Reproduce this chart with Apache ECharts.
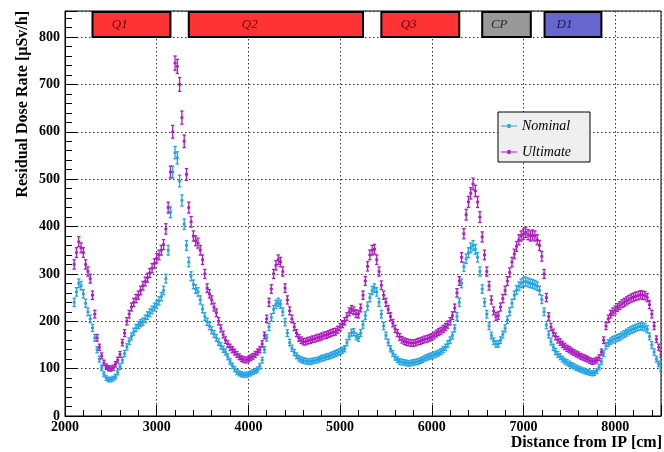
<!DOCTYPE html>
<html><head><meta charset="utf-8">
<script src="https://cdn.jsdelivr.net/npm/echarts@6/dist/echarts.min.js"></script>
<style>html,body{margin:0;padding:0;background:#fff}#c{width:664px;height:452px}</style>
</head><body><div id="c"></div>
<script>
const distance = [
2100,2125,2150,2175,2200,2225,2250,2275,2300,2325,2350,2375,2400,2425,2450,2475,2500,2525,2550,2575,
2600,2625,2650,2675,2700,2725,2750,2775,2800,2825,2850,2875,2900,2925,2950,2975,3000,3025,3050,3075,
3100,3125,3150,3175,3200,3225,3250,3275,3300,3325,3350,3375,3400,3425,3450,3475,3500,3525,3550,3575,
3600,3625,3650,3675,3700,3725,3750,3775,3800,3825,3850,3875,3900,3925,3950,3975,4000,4025,4050,4075,
4100,4125,4150,4175,4200,4225,4250,4275,4300,4325,4350,4375,4400,4425,4450,4475,4500,4525,4550,4575,
4600,4625,4650,4675,4700,4725,4750,4775,4800,4825,4850,4875,4900,4925,4950,4975,5000,5025,5050,5075,
5100,5125,5150,5175,5200,5225,5250,5275,5300,5325,5350,5375,5400,5425,5450,5475,5500,5525,5550,5575,
5600,5625,5650,5675,5700,5725,5750,5775,5800,5825,5850,5875,5900,5925,5950,5975,6000,6025,6050,6075,
6100,6125,6150,6175,6200,6225,6250,6275,6300,6325,6350,6375,6400,6425,6450,6475,6500,6525,6550,6575,
6600,6625,6650,6675,6700,6725,6750,6775,6800,6825,6850,6875,6900,6925,6950,6975,7000,7025,7050,7075,
7100,7125,7150,7175,7200,7225,7250,7275,7300,7325,7350,7375,7400,7425,7450,7475,7500,7525,7550,7575,
7600,7625,7650,7675,7700,7725,7750,7775,7800,7825,7850,7875,7900,7925,7950,7975,8000,8025,8050,8075,
8100,8125,8150,8175,8200,8225,8250,8275,8300,8325,8350,8375,8400,8425,8450,8475,8500];

const ultimate = [
320,345,368,355,345,320,305,290,255,215,165,145,127,112,104,101,100,102,109,118,
130,155,175,200,215,230,240,248,255,265,275,284,292,302,312,322,333,340,350,362,
395,440,515,600,745,738,700,630,580,510,440,410,380,370,365,350,330,300,270,258,
245,230,218,200,185,172,160,152,145,140,135,130,125,121,119,118,120,123,126,130,
135,140,152,170,205,240,268,300,318,330,325,305,270,245,222,205,188,175,165,160,
157,157,159,160,162,163,165,166,168,170,171,173,175,177,178,182,188,194,200,210,
220,225,222,216,215,228,255,285,316,340,350,352,330,305,276,255,240,225,210,196,
184,175,167,161,158,156,155,154,154,155,157,158,160,162,163,165,167,170,174,177,
180,184,188,193,200,212,228,260,285,335,385,425,452,470,490,475,452,420,378,340,
305,275,245,222,210,212,230,248,265,285,303,325,342,358,372,380,384,388,383,380,
382,380,372,360,337,300,250,210,188,176,168,161,156,151,147,143,140,137,134,131,
129,126,124,122,120,117,115,116,118,123,135,160,190,205,215,220,224,229,233,237,
240,243,246,249,251,253,254,256,255,254,250,235,215,190,162,145,130];

const nominal = [
240,262,280,275,258,238,220,205,186,165,140,120,102,88,80,77,77,79,83,92,
104,118,132,146,158,168,178,186,192,196,199,205,212,218,224,230,236,243,252,265,
290,350,430,515,556,545,496,455,405,360,325,295,278,268,262,245,226,210,199,190,
181,173,165,156,148,141,135,125,115,106,99,93,90,88,87,87,88,90,93,95,
98,105,118,140,165,188,208,225,236,240,236,220,198,175,155,143,134,127,122,119,
117,116,115,115,116,117,118,120,122,123,125,126,128,130,132,134,136,139,142,155,
168,176,177,168,165,175,193,212,232,250,265,270,262,240,215,190,170,155,142,132,
124,119,115,114,113,112,111,112,113,114,115,117,119,122,124,126,127,129,131,133,
136,140,145,152,160,170,185,210,240,280,315,332,345,355,360,352,335,305,268,240,
215,190,170,158,152,152,160,172,185,203,220,238,255,266,274,280,283,284,282,280,
279,277,274,265,246,220,192,172,157,145,136,130,125,120,116,113,110,107,105,102,
100,98,96,94,93,91,90,91,95,103,115,132,148,154,158,161,163,165,167,170,
173,176,179,182,184,186,188,189,189,187,183,168,150,135,120,110,100];

const magnetNames = ['Q1','Q2','Q3','CP','D1'];
const magnetStart = [2300,3350,5450,6550,7230];
const magnetEnd   = [3150,5250,6300,7080,7850];
const magnetColors = ['#ff3333','#ff3333','#ff3333','#999999','#6666cc'];
const magnetTextColors = ['#5a0000','#5a0000','#5a0000','#2a2a2a','#1a1a55'];

const xTicks = [2000,3000,4000,5000,6000,7000,8000];
const yTicks = [0,100,200,300,400,500,600,700,800];
const xMin = 2000, xMax = 8500, yMin = 0, yMax = 855, boxBottom = 800;

const C_NOM = '#22a3e4', C_ULT = '#ad1ac2';
const FONT = 'Liberation Serif';

function errData(vals){ return distance.map((d,i)=>[d, vals[i], 0.55*Math.sqrt(vals[i])]); }

function errRender(color){
  return function(params, api){
    const x = api.value(0), y = api.value(1), e = api.value(2);
    const p = api.coord([x,y]), hi = api.coord([x,y+e]), lo = api.coord([x,y-e]);
    const w = 1.7, st = {stroke: color, lineWidth: 1.3};
    return {type:'group', children:[
      {type:'line', shape:{x1:p[0],y1:hi[1],x2:p[0],y2:lo[1]}, style:st},
      {type:'line', shape:{x1:p[0]-w,y1:hi[1],x2:p[0]+w,y2:hi[1]}, style:st},
      {type:'line', shape:{x1:p[0]-w,y1:lo[1],x2:p[0]+w,y2:lo[1]}, style:st},
      {type:'rect', shape:{x:p[0]-1.5,y:p[1]-1.2,width:3,height:2.4}, style:{fill:color}}
    ]};
  };
}

const chart = echarts.init(document.getElementById('c'), null, {renderer:'canvas'});
const legendIcon = 'path://M0,1.4h16v1.2h-16z M6.5,0h3v4h-3z';
chart.setOption({
  animation:false,
  backgroundColor:'#ffffff',
  grid:{left:65, right:1, top:11, bottom:36, show:true, borderColor:'#000', borderWidth:1, backgroundColor:'transparent'},
  xAxis:{type:'value', min:xMin, max:xMax, interval:1000,
    axisLine:{lineStyle:{color:'#000', width:1}},
    axisTick:{inside:true, length:11, lineStyle:{color:'#000'}},
    minorTick:{show:true, splitNumber:5, length:6, lineStyle:{color:'#000'}},
    splitLine:{show:true, lineStyle:{color:'#333', type:[1.5,2.5], width:1}},
    axisLabel:{color:'#000', fontFamily:FONT, fontWeight:'bold', fontSize:14, margin:4,
      formatter:v=> xTicks.indexOf(v)>=0 ? String(v) : ''}
  },
  yAxis:{type:'value', min:yMin, max:yMax, interval:100,
    axisLine:{lineStyle:{color:'#000', width:1}},
    axisTick:{inside:true, length:12, lineStyle:{color:'#000'}},
    minorTick:{show:true, splitNumber:5, length:7, lineStyle:{color:'#000'}},
    splitLine:{show:true, lineStyle:{color:'#333', type:[1.5,2.5], width:1}},
    axisLabel:{color:'#000', fontFamily:FONT, fontWeight:'bold', fontSize:14, margin:5,
      formatter:v=> yTicks.indexOf(v)>=0 ? String(v) : ''}
  },
  legend:{left:498, top:112, orient:'vertical', data:[{name:'Nominal', icon:legendIcon},{name:'Ultimate', icon:legendIcon}],
    itemWidth:16, itemHeight:4, itemGap:12,
    backgroundColor:'#efefef', borderColor:'#000', borderWidth:1, borderRadius:0,
    padding:[7,19,3,3],
    textStyle:{fontFamily:FONT, fontStyle:'italic', fontSize:14, color:'#000', lineHeight:14}
  },
  graphic:[
    {type:'text', x:23, y:11, rotation:Math.PI/2,
      style:{text:'Residual Dose Rate [\u00b5Sv/h]', font:'bold 16px "Liberation Serif"', fill:'#000', textAlign:'right', textVerticalAlign:'middle'}},
    {type:'text', x:662, y:443,
      style:{text:'Distance from IP [cm]', font:'bold 16px "Liberation Serif"', fill:'#000', textAlign:'right', textVerticalAlign:'middle'}}
  ],
  series:[
    {name:'Nominal', type:'custom', renderItem:errRender(C_NOM), data:errData(nominal), itemStyle:{color:C_NOM}, clip:true, encode:{x:0,y:1}, z:3},
    {name:'Ultimate', type:'custom', renderItem:errRender(C_ULT), data:errData(ultimate), itemStyle:{color:C_ULT}, clip:true, encode:{x:0,y:1}, z:4},
    {name:'magnets', type:'custom', z:5,
      data: magnetNames.map((n,i)=>[magnetStart[i], magnetEnd[i], i]),
      encode:{x:[0,1]},
      renderItem:function(params, api){
        const i = api.value(2);
        const a = api.coord([api.value(0), boxBottom]), b = api.coord([api.value(1), yMax]);
        const w = b[0]-a[0], h = a[1]-b[1];
        return {type:'group', children:[
          {type:'rect', shape:{x:a[0], y:b[1]+1, width:w, height:h-1}, style:{fill:magnetColors[i], stroke:'#000', lineWidth:2}},
          {type:'text', x:a[0]+w*0.35, y:b[1]+h/2+1, style:{text:magnetNames[i], font:'italic 13px "Liberation Serif"', fill:magnetTextColors[i], textAlign:'center', textVerticalAlign:'middle'}}
        ]};
      }
    }
  ]
});
</script></body></html>
